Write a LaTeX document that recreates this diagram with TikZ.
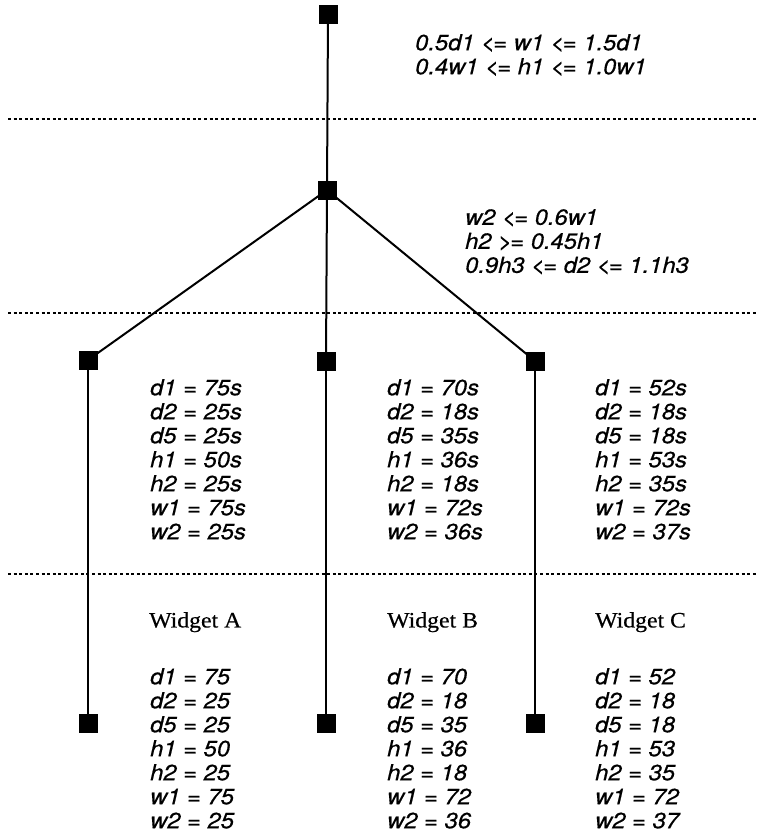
\documentclass[tikz,border=0pt]{standalone}
\usepackage{fontspec}
\newfontfamily\helvfam[FakeStretch=1.08,FakeBold=0.6]{TeX Gyre Heros}
\newfontfamily\timesfam[FakeStretch=1.08,FakeBold=0.4]{Liberation Serif}
\newcommand\lteq{<\kern-1.8pt=}
\newcommand\gteq{>\kern-1.8pt=}
\begin{document}
\begin{tikzpicture}[x=1pt,y=-1pt,
  joint/.style={draw=none,fill=black,minimum size=19pt,inner sep=0pt,rectangle},
  link/.style={line width=2pt},
  level/.style={line width=1.3pt,dash pattern=on 3pt off 2.6pt},
  eqs/.style={anchor=north west,inner sep=0pt,align=left,
    font=\helvfam\itshape\fontsize{22}{24}\selectfont},
  title/.style={anchor=north west,inner sep=0pt,
    font=\timesfam\fontsize{22}{24}\selectfont}]
  \useasboundingbox (0,0) rectangle (761,839);

  % level separators
  \draw[level] (8,119) -- (758,119);
  \draw[level] (8,313) -- (758,313);
  \draw[level] (8,574) -- (758,574);

  % joints of the tree
  \node[joint] (top) at (328,14) {};
  \node[joint] (mid) at (327,190) {};
  \node[joint] (l)   at (88,360) {};
  \node[joint] (m)   at (326,361) {};
  \node[joint] (r)   at (535,361) {};
  \node[joint] (bl)  at (88,723) {};
  \node[joint] (bm)  at (326,723) {};
  \node[joint] (br)  at (535,723) {};

  % branches
  \draw[link] (top.center) -- (mid.center);
  \draw[link] (mid.center) -- (l.center);
  \draw[link] (mid.center) -- (m.center);
  \draw[link] (mid.center) -- (r.center);
  \draw[link] (l.center) -- (bl.center);
  \draw[link] (m.center) -- (bm.center);
  \draw[link] (r.center) -- (br.center);

  % constraints
  \node[eqs] (c1) at (415,34) {0.5d1 \lteq{} w1 \lteq{} 1.5d1\\0.4w1 \lteq{} h1 \lteq{} 1.0w1};
  \node[eqs] (c2) at (465,209) {w2 \lteq{} 0.6w1\\h2 \gteq{} 0.45h1\\0.9h3 \lteq{} d2 \lteq{} 1.1h3};

  % scaled dimensions
  \node[eqs] (sa) at (150,379) {d1 = 75s\\d2 = 25s\\d5 = 25s\\h1 = 50s\\h2 = 25s\\w1 = 75s\\w2 = 25s};
  \node[eqs] (sb) at (387,379) {d1 = 70s\\d2 = 18s\\d5 = 35s\\h1 = 36s\\h2 = 18s\\w1 = 72s\\w2 = 36s};
  \node[eqs] (sc) at (595,379) {d1 = 52s\\d2 = 18s\\d5 = 18s\\h1 = 53s\\h2 = 35s\\w1 = 72s\\w2 = 37s};

  % widgets
  \node[title] (wa) at (149,612) {Widget A};
  \node[title] (wb) at (387,612) {Widget B};
  \node[title] (wc) at (595,612) {Widget C};

  \node[eqs] (va) at (150,668) {d1 = 75\\d2 = 25\\d5 = 25\\h1 = 50\\h2 = 25\\w1 = 75\\w2 = 25};
  \node[eqs] (vb) at (387,668) {d1 = 70\\d2 = 18\\d5 = 35\\h1 = 36\\h2 = 18\\w1 = 72\\w2 = 36};
  \node[eqs] (vc) at (595,668) {d1 = 52\\d2 = 18\\d5 = 18\\h1 = 53\\h2 = 35\\w1 = 72\\w2 = 37};
\end{tikzpicture}
\end{document}
